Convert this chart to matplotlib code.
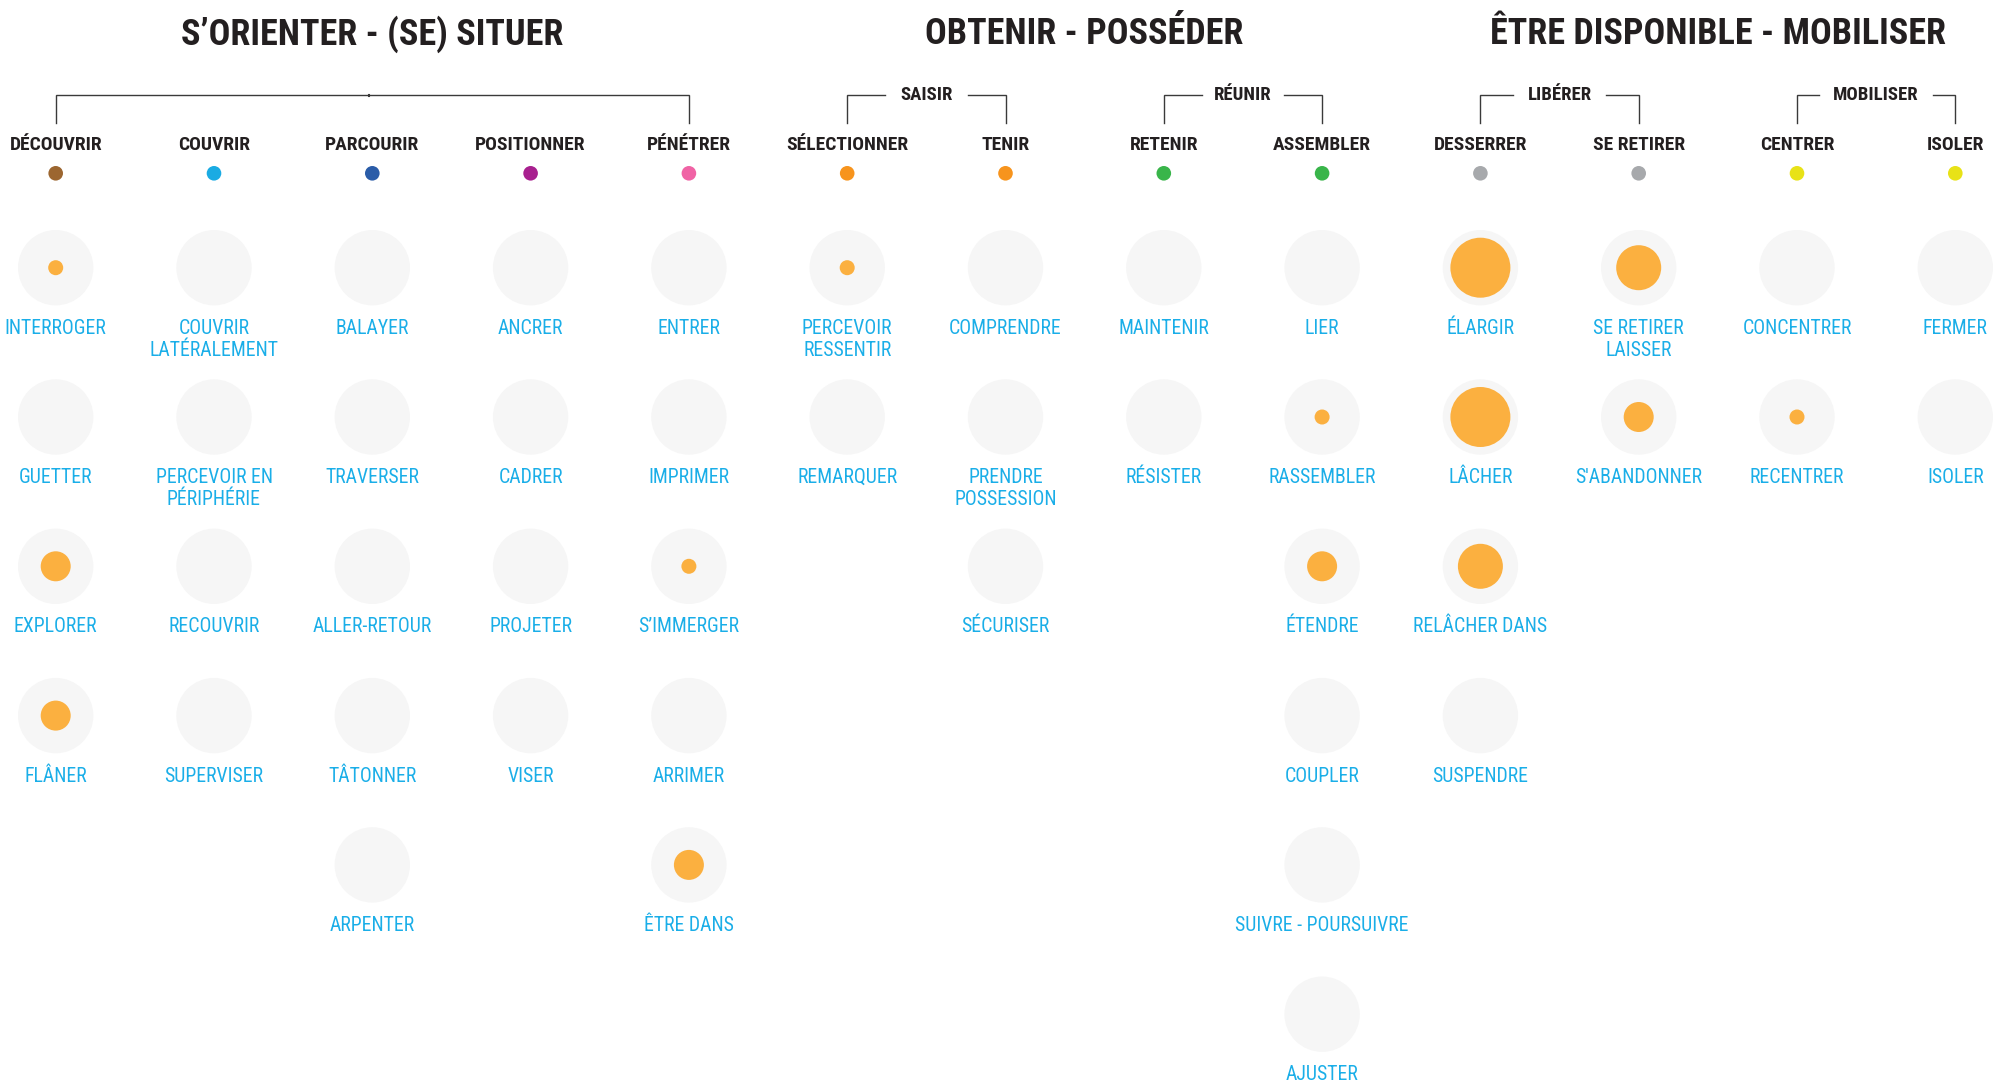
import matplotlib
matplotlib.use("Agg")
from matplotlib import pyplot as plt
from matplotlib.patches import Circle
from matplotlib import font_manager

# pick a condensed family if one is installed
names = set(f.name for f in font_manager.fontManager.ttflist)
font = "DejaVu Sans"
for cand in ["Roboto Condensed", "Liberation Sans Narrow", "Roboto", "Liberation Sans"]:
    if cand in names:
        font = cand
        break
plt.rcParams['font.family'] = [font, 'DejaVu Sans']

# --- data ---
groups = ["S’ORIENTER - (SE) SITUER", "OBTENIR - POSSÉDER", "ÊTRE DISPONIBLE - MOBILISER"]
group_cols = [(0, 4), (5, 8), (9, 12)]
subgroups = ["SAISIR", "RÉUNIR", "LIBÉRER", "MOBILISER"]
subgroup_cols = [(5, 6), (7, 8), (9, 10), (11, 12)]

headers = ["DÉCOUVRIR", "COUVRIR", "PARCOURIR", "POSITIONNER", "PÉNÉTRER",
           "SÉLECTIONNER", "TENIR", "RETENIR", "ASSEMBLER",
           "DESSERRER", "SE RETIRER", "CENTRER", "ISOLER"]
header_colors = ["#9C6630", "#1AABE3", "#2A5CA8", "#A8208F", "#F063A5",
                 "#F7941D", "#F7941D", "#39B54A", "#39B54A",
                 "#A7A9AC", "#A7A9AC", "#E8E217", "#E8E217"]

verbs = [
    ["INTERROGER", "GUETTER", "EXPLORER", "FLÂNER"],
    ["COUVRIR\nLATÉRALEMENT", "PERCEVOIR EN\nPÉRIPHÉRIE", "RECOUVRIR", "SUPERVISER"],
    ["BALAYER", "TRAVERSER", "ALLER-RETOUR", "TÂTONNER", "ARPENTER"],
    ["ANCRER", "CADRER", "PROJETER", "VISER"],
    ["ENTRER", "IMPRIMER", "S’IMMERGER", "ARRIMER", "ÊTRE DANS"],
    ["PERCEVOIR\nRESSENTIR", "REMARQUER"],
    ["COMPRENDRE", "PRENDRE\nPOSSESSION", "SÉCURISER"],
    ["MAINTENIR", "RÉSISTER"],
    ["LIER", "RASSEMBLER", "ÉTENDRE", "COUPLER", "SUIVRE - POURSUIVRE", "AJUSTER"],
    ["ÉLARGIR", "LÂCHER", "RELÂCHER DANS", "SUSPENDRE"],
    ["SE RETIRER\nLAISSER", "S'ABANDONNER"],
    ["CONCENTRER", "RECENTRER"],
    ["FERMER", "ISOLER"],
]
scores = [
    [1, 0, 2, 2],
    [0, 0, 0, 0],
    [0, 0, 0, 0, 0],
    [0, 0, 0, 0],
    [0, 0, 1, 0, 2],
    [1, 0],
    [0, 0, 0],
    [0, 0],
    [0, 1, 2, 0, 0, 0],
    [4, 4, 3, 0],
    [3, 2],
    [0, 1],
    [0, 0],
]

# --- layout (pixels) ---
W, H = 2007, 1084
x0, dx = 55.7, 158.3
y0, dy = 267.7, 149.3
bg_r = 37.7
unit_r = 7.5
ink = "#231F20"
line_c = "#3A3A3A"
label_c = "#1AAEE8"

fig = plt.figure(figsize=(W / 100, H / 100), dpi=100)
ax = fig.add_axes([0, 0, 1, 1])
ax.set_xlim(0, W)
ax.set_ylim(H, 0)
ax.axis('off')


def colx(i):
    return x0 + i * dx


# group titles
for name, (a, b) in zip(groups, group_cols):
    ax.text((colx(a) + colx(b)) / 2, 34, name, ha='center', va='center',
            fontsize=26, fontweight='bold', color=ink)

# big bracket of the first group
ly, ly2 = 94.7, 123.3
a, b = group_cols[0]
ax.plot([colx(a), colx(a), colx(b), colx(b)], [ly2, ly, ly, ly2],
        color=line_c, lw=1.0, solid_joinstyle='miter')
ax.plot([colx(2) - 3, colx(2) - 3], [ly, ly + 1.5], color=line_c, lw=1.5)

# sub brackets with label in the gap
for name, (a, b) in zip(subgroups, subgroup_cols):
    xm = (colx(a) + colx(b)) / 2
    ax.text(xm, ly + 0.5, name, ha='center', va='center', fontsize=13.5,
            fontweight='bold', color=ink)
    half = len(name) * 5.2 + 10
    ax.plot([xm - half, colx(a), colx(a)], [ly, ly, ly2], color=line_c, lw=1.0,
            solid_joinstyle='miter')
    ax.plot([xm + half, colx(b), colx(b)], [ly, ly, ly2], color=line_c, lw=1.0,
            solid_joinstyle='miter')

# column headers and coloured dots
for i, (h, c) in enumerate(zip(headers, header_colors)):
    ax.text(colx(i), 145.5, h, ha='center', va='center', fontsize=14,
            fontweight='bold', color=ink)
    ax.add_patch(Circle((colx(i), 173.3), 7.3, color=c, lw=0))

# verb circles
for i, (col, vals) in enumerate(zip(verbs, scores)):
    for j, (v, s) in enumerate(zip(col, vals)):
        cx, cy = colx(i), y0 + j * dy
        ax.add_patch(Circle((cx, cy), bg_r, color="#F6F6F6", lw=0))
        if s > 0:
            ax.add_patch(Circle((cx, cy), unit_r * s, color="#FBB040", lw=0))
        ax.text(cx, cy + 51, v, ha='center', va='top', fontsize=14.2,
                color=label_c, linespacing=1.2)

fig.savefig("out.png", dpi=100, facecolor='white')
